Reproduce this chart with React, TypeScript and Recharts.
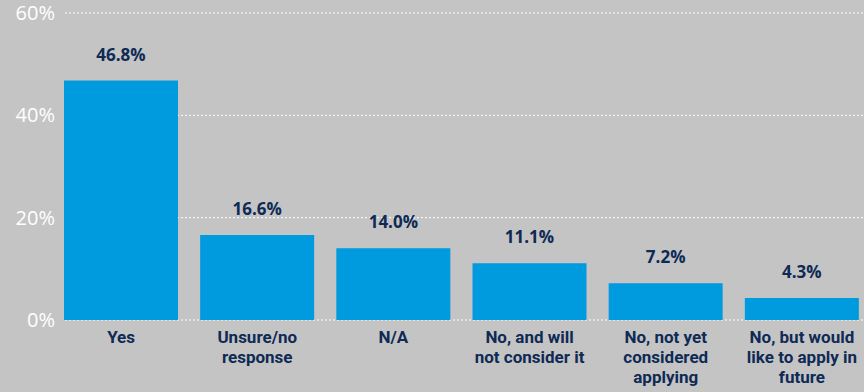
import React from 'react';
import { BarChart, Bar, XAxis, YAxis, CartesianGrid, LabelList } from 'recharts';

// categories, split into the lines they are drawn on
const categoryLines: string[][] = [
  ['Yes'],
  ['Unsure/no', 'response'],
  ['N/A'],
  ['No, and will', 'not consider it'],
  ['No, not yet', 'considered', 'applying'],
  ['No, but would', 'like to apply in', 'future'],
];
const shares = [46.8, 16.6, 14.0, 11.1, 7.2, 4.3];
const yTicks = [0, 20, 40, 60];

const data = categoryLines.map((lines, i) => ({
  name: lines.join(' '),
  value: shares[i],
}));

const NAVY = '#0e2a55';
const BLUE = '#009ade';
const BG = '#c4c4c4';
const FONT = '"Open Sans", sans-serif';
const LABEL_FONT = 'Roboto, sans-serif';

const XTick = (props: any) => {
  const { x, y, index } = props;
  const lines = categoryLines[index] || [];
  return (
    <text x={x} y={y} textAnchor="middle" fill={NAVY} fontFamily={LABEL_FONT} fontWeight={700} fontSize={17}>
      {lines.map((l, i) => (
        <tspan key={i} x={x} y={y + 15 + i * 20}>
          {l}
        </tspan>
      ))}
    </text>
  );
};

const YTick = (props: any) => {
  const { y, payload } = props;
  return (
    <text x={55} y={y} dy={7} textAnchor="end" fill="#ffffff" fontFamily={FONT} fontSize={20}>
      {payload.value}%
    </text>
  );
};

const App: React.FC = () => {
  return (
    <div
      style={{
        position: 'fixed',
        left: 0,
        top: 0,
        width: 864,
        height: 392,
        background: BG,
        overflow: 'hidden',
      }}
    >
      <BarChart
        width={880}
        height={392}
        data={data}
        margin={{ top: 13, right: 10, bottom: 0, left: 0 }}
        barCategoryGap={11}
      >
        <CartesianGrid vertical={false} x={65} width={805} stroke="#ffffff" strokeDasharray="2 2" />
        <XAxis dataKey="name" axisLine={false} tickLine={false} height={72} interval={0} tick={<XTick />} />
        <YAxis
          width={53}
          domain={[0, 60]}
          ticks={yTicks}
          axisLine={false}
          tickLine={false}
          tick={<YTick />}
        />
        <Bar dataKey="value" fill={BLUE} isAnimationActive={false}>
          <LabelList
            dataKey="value"
            position="top"
            offset={20}
            formatter={(v: any) => `${Number(v).toFixed(1)}%`}
            fill={NAVY}
            fontFamily={FONT}
            fontWeight={700}
            fontSize={17}
          />
        </Bar>
      </BarChart>
    </div>
  );
};

export default App;
